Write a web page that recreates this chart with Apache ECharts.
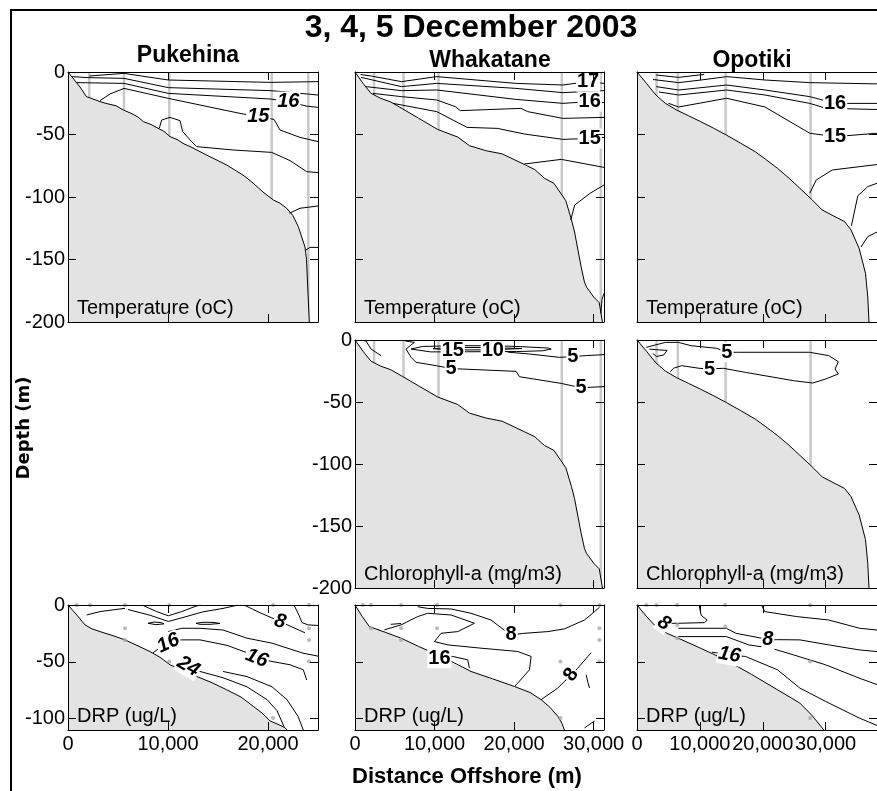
<!DOCTYPE html>
<html>
<head>
<meta charset="utf-8">
<script src="https://cdn.jsdelivr.net/npm/echarts@6/dist/echarts.min.js"></script>
<style>
html,body{margin:0;padding:0;background:#fff}
#chart{width:877px;height:791px}
</style>
</head>
<body>
<div id="chart"></div>
<script>
// ---------------- data ----------------
const figureTitle = '3, 4, 5 December 2003';
const sectionNames = ['Pukehina', 'Whakatane', 'Opotiki'];
const variableNames = ['Temperature (oC)', 'Chlorophyll-a (mg/m3)', 'DRP (ug/L)'];
const xAxisTitle = 'Distance Offshore (m)';
const yAxisTitle = 'Depth (m)';

// section lengths offshore (m)
const sectionLength = [25000, 31300, 38170];
// tick values
const depthTicksFull = [0, -50, -100, -150, -200];
const depthTicksDRP = [0, -50, -100];
const distanceTicks = [0, 10000, 20000, 30000];

// seabed profiles [distance m, depth m]
const pukBathy = [[0,0],[600,-6],[1200,-12],[1840,-19.7],[2300,-21],[3200,-23.7],[4000,-25.5],[4800,-27],[5530,-30.4],[6300,-33],[7000,-36],[7530,-39.7],[8300,-42],[9000,-45],[9600,-47.5],[10200,-51.7],[10900,-54],[11600,-57.5],[12300,-60],[13200,-63.7],[14000,-67],[14900,-70.5],[15870,-74.4],[16700,-78.5],[17600,-83],[18530,-89],[19500,-96],[20530,-102.4],[21200,-105],[21870,-109],[22500,-115],[23030,-123.7],[23700,-140],[23850,-150],[24130,-200]];
const pukBathyDRP = [[0,0],[900,-9],[1700,-17.5],[2400,-21],[3200,-23.4],[4500,-27],[5700,-30.7],[7000,-36],[8200,-41],[9200,-46],[10200,-52.6],[11500,-57.5],[12870,-62.9],[14300,-68],[15870,-74.6],[17300,-81],[18530,-89.2],[19400,-95],[20200,-102],[21000,-105],[21700,-108],[21900,-110]];
const whaBathy = [[0,0],[1000,-9],[2000,-17],[3200,-21],[4500,-24],[6000,-29.5],[8000,-37],[10400,-46],[12900,-52],[14400,-59],[16500,-63],[18500,-65.5],[21300,-74],[22600,-78],[23800,-85],[25000,-89],[26500,-103],[27200,-118],[27600,-128],[28400,-155],[28840,-168],[29100,-172],[30000,-180],[30700,-184.5],[31100,-200]];
const whaBathyDRP = [[0,0],[900,-10],[1800,-19],[3800,-24],[5790,-29.2],[8000,-36.5],[10400,-43.9],[12500,-51],[14590,-58.5],[17300,-65],[20040,-71.7],[22000,-77],[23400,-83.3],[24500,-90],[25500,-98],[26000,-104],[26330,-110]];
const opoBathy = [[0,0],[1500,-9],[3000,-18.4],[4500,-25],[6300,-30.4],[8200,-35],[10120,-39.7],[12200,-45],[14200,-50.4],[16500,-57],[18780,-63.7],[20500,-70],[22340,-77],[24200,-85],[25900,-93],[27800,-102],[29460,-110.4],[31200,-115],[33020,-119.7],[34040,-126.4],[35320,-141],[36340,-161],[36700,-180],[36900,-200]];
const opoBathyDRP = [[0,0],[1500,-10],[3000,-19],[4800,-25],[6560,-29.2],[10300,-38.5],[14050,-48.2],[18200,-61],[22340,-74.6],[25900,-86.3],[27800,-97],[29460,-108.2],[29700,-110]];

// CTD station positions (m offshore)
const pukStations = [2130, 5600, 10130, 20370, 24030];
const whaStations = [2400, 6100, 10500, 26000, 30900];
const opoStations = [3100, 6500, 14100, 27600];

// water sample positions for nutrients [distance, depth]
const pukSamples = [[870,0],[2200,0],[5700,0],[5700,-20.5],[5700,-30.7],[10130,0],[10130,-49.7],[20500,0],[20500,-99.4],[24100,0],[24100,-20.5],[24100,-30.7],[24100,-49.7]];
const whaSamples = [[970,0],[2010,0],[5790,0],[10310,0],[25830,0],[30730,0],[2010,-20.5],[5790,-20.5],[5790,-30.7],[10310,-20.5],[10310,-49.7],[25830,-49.7],[25830,-99.4],[30730,-20.5],[30730,-30.7],[30730,-49.7]];
const opoSamples = [[1480,0],[3100,0],[6410,0],[14050,0],[27530,0],[6410,-17.5],[6410,-29.2],[14050,-19],[14050,-49.7],[27530,-49.7],[27530,-99.4]];

// contour polylines [distance, depth]
const pukTempContours = [
  [[2133,-3.2],[5600,-1.1],[10033,-6.4],[20266,-8.3],[25000,-7.7]],
  [[367,-3.7],[2000,-4.5],[5600,-5.1],[10033,-12.5],[20266,-14.9],[25000,-18.4]],
  [[867,-8.5],[5600,-9.1],[10033,-17.1],[20266,-21.6],[22030,-23.7],[23800,-27.2],[25000,-28.3]],
  [[3200,-22.9],[4200,-17.6],[5600,-13.1],[10033,-21.1],[17200,-33.1],[19030,-35.7],[20600,-37.9],[21200,-46.4],[23200,-52.3],[25000,-55.7]],
  [[9133,-45],[9366,-38.4],[10200,-36.3],[11200,-38.9],[11466,-47.7],[12366,-55.7],[12866,-59.7],[16533,-62.4],[20366,-64.3],[22200,-70.9],[23866,-79.7],[25000,-80.5]],
  [[22133,-113],[23200,-109],[25000,-107.2]],
  [[23800,-142.4],[24200,-140.3],[25000,-140.3]]
];
const pukTempLabels = [[22030,-23.7,'16'],[19030,-35.7,'15']];

const whaTempContours = [
  [[700,-2],[2030,-3.2],[5837,-7.7],[10280,-3.7],[20219,-9.1],[26141,-10.4],[29300,-7.7],[31300,-9.1]],
  [[761,-4.3],[5837,-11.7],[10280,-9.1],[20219,-13.1],[26141,-16.5],[31300,-14.9]],
  [[1396,-11.7],[5837,-14.9],[10280,-14.4],[20219,-21.9],[26141,-25.1],[29500,-23.7],[31300,-24.5]],
  [[2242,-17.1],[5837,-19.7],[10280,-22.4],[12605,-27.7],[13240,-30.9],[20854,-29.1],[21700,-31.7],[26141,-37.1],[31300,-36.3]],
  [[4780,-25.1],[10280,-31.7],[14086,-44.3],[17893,-45.1],[21277,-49.6],[26141,-53.9],[29500,-53.1],[31300,-52.3]],
  [[21277,-73.6],[25930,-69.9],[31300,-76.3]],
  [[27114,-118.4],[27621,-106.4],[29525,-97.1],[31300,-90.4]],
  [[30900,-193],[31050,-182],[31300,-177]]
];
const whaTempLabels = [[29300,-7.7,'17'],[29500,-23.7,'16'],[29500,-53.1,'15']];

const opoTempContours = [
  [[3050,-2.4],[6620,-4.3],[10690,-1.9]],
  [[2545,-6],[6620,-8.5],[10180,-6.4],[14250,-3.7],[20360,-6.4],[27480,-8.5],[38170,-9.5]],
  [[3050,-11.7],[6620,-14.4],[14250,-10.4],[20360,-14.4],[27480,-19.7],[31510,-25.1],[38170,-25.1]],
  [[3500,-16],[6620,-18.4],[14250,-14.4],[20360,-18.4],[27480,-25.1],[30030,-29],[38170,-30]],
  [[5000,-25],[6620,-28],[14250,-21],[20360,-28],[27480,-49],[31510,-51.7],[38170,-49]],
  [[27480,-97],[28500,-86.4],[31050,-78.4],[38170,-74]],
  [[34100,-123],[35120,-99],[36700,-91.7],[38170,-89]],
  [[35630,-140],[36700,-131.7],[38170,-128]]
];
const opoTempLabels = [[31510,-25.1,'16'],[31510,-51.7,'15']];

const whaChlContours = [
  [[7045,-7.3],[8500,-5.2],[12700,-4.6],[17700,-4.6],[21000,-5.4],[24300,-6.5],[24660,-7.3],[23600,-8.7],[20300,-9.3],[14000,-9.5],[9500,-9.6],[7045,-7.3]],
  [[9800,-7],[12000,-6],[17000,-6.1],[21000,-6.9],[17000,-7.9],[12000,-8.1],[9800,-7]],
  [[6330,-0.8],[7460,-1.9],[6415,-7.3],[7045,-14],[7675,-18],[10190,-20.7],[12080,-23],[13460,-23.4],[20250,-25.3],[20670,-29.6],[25920,-35],[28430,-38.5],[31300,-37.6]],
  [[19200,-9.8],[21930,-11.3],[25710,-14],[27390,-13.4],[29060,-12.6],[31300,-11.8]],
  [[755,-0.2],[1384,-0.8],[2013,-7.3],[3270,-12.6]],
  [[11110,0],[11660,-1.5],[12700,-2.7]]
];
const whaChlLabels = [[12290,-8.6,'15'],[17320,-8.4,'10'],[12080,-23,'5'],[27390,-13.4,'5'],[28430,-38.5,'5']];

const opoChlContours = [
  [[1478,-5.9],[4530,-1.9],[6570,-1.9],[8600,-4.6],[12680,-6.7],[14300,-9.9],[15990,-9.9],[27440,-9.9],[30490,-12.6],[32020,-17.5],[31510,-23.4],[32020,-27.4],[29980,-31.5],[27950,-34.7],[24890,-32.8],[17260,-26.1],[13700,-22.8],[11560,-23.4],[9880,-22.8],[7080,-20.7],[5810,-22.8],[5300,-25.5]],
  [[1990,-7.4],[3510,-8],[4780,-8.4],[4280,-12],[3110,-13.3],[2500,-11]]
];
const opoChlLabels = [[14300,-9.9,'5'],[11560,-23.4,'5']];

const pukDrpContours = [
  [[1870,-8.8],[3200,-5.8],[5700,-2.9]],
  [[7400,0],[8870,-5.8],[10030,-9.5],[11370,-5.8],[12800,-1],[13300,0]],
  [[6000,-4],[8200,-9],[10030,-14.5],[11500,-11],[13500,-6],[15500,-3],[17000,0]],
  [[8000,-16.1],[8600,-15],[9300,-15.5],[9600,-16.6],[8800,-17.3],[8000,-16.1]],
  [[12800,-16.1],[13500,-15.2],[14500,-15.3],[15200,-16.2],[14200,-17],[13200,-17],[12800,-16.1]],
  [[17600,0],[19000,-6],[20300,-11],[21200,-14.6],[22200,-18.5],[23700,-24.5]],
  [[22600,0],[23100,-9],[23400,-15.5],[24000,-17.5],[25000,-18]],
  [[10030,-23.4],[11370,-20.5],[13200,-20.5],[15500,-22],[17900,-29.2],[20400,-33.6],[23500,-42.4],[25000,-45]],
  [[8500,-42],[9300,-37],[10030,-33.6],[11370,-30.7],[13200,-30.7],[15900,-35.5],[17900,-42],[18870,-46.8],[20400,-49.7],[22200,-52.6],[23530,-57],[23870,-66]],
  [[11200,-56.5],[12030,-54.1],[13200,-58.5],[15500,-64],[17900,-72],[19900,-83.3],[20900,-93],[21600,-107]],
  [[15500,-58.5],[17900,-63],[20400,-72],[21900,-83.3],[23000,-98],[23530,-110]]
];
const pukDrpLabels = [[21200,-14.6,'8'],[10030,-33.6,'16'],[18870,-46.8,'16'],[12030,-54.1,'24']];
const pukDrpLabelAngles = [-15, 25, -22, -30];

const whaDrpContours = [
  [[3690,-21.9],[5790,-17.5],[7880,-10.2],[9140,-7.3],[12080,-8.8],[15010,-16.1],[12920,-23.4],[10820,-24.9],[9980,-32.2],[11660,-35.1],[15850,-38],[20460,-40.9],[22140,-45.3],[21930,-57],[20460,-68.7],[20050,-71.6]],
  [[4500,-17],[5790,-16.3]],
  [[7880,-1.5],[9140,-3],[12080,-3.5],[14590,-7.3],[17100,-13.2],[18370,-20],[19620,-26.3],[21090,-25],[24240,-23.4],[26330,-21],[28850,-13.2],[30110,-5.8],[30740,-2]],
  [[9600,-41],[10610,-46.8],[12290,-45.3],[14170,-48.2],[14380,-55.6]],
  [[23400,-83.3],[25500,-73],[27170,-61.4],[28000,-55.6],[29270,-45.3],[29690,-42]],
  [[29060,-61.4],[29270,-68],[29480,-73.1]],
  [[28850,-108.2],[29700,-104],[30110,-102]]
];
const whaDrpLabels = [[19620,-26.3,'8'],[10610,-46.8,'16'],[27170,-61.4,'8']];
const whaDrpLabelAngles = [0, 0, 55];

const opoDrpContours = [
  [[9880,0],[10200,-9],[11150,-13.2],[10740,-15.5],[6570,-16.1],[4276,-16.1],[3200,-17]],
  [[19800,0],[20310,-5.8],[25400,-10.2],[30490,-13.2],[35420,-20.5],[38170,-22]],
  [[6570,-20.5],[14200,-20.5],[15730,-24.9],[19800,-29.2],[20820,-30.7],[22340,-30.5],[25900,-30.7],[30490,-35.1],[35320,-39.5],[38170,-41]],
  [[6570,-27.8],[14200,-27.8],[17770,-35.1],[21330,-38],[24890,-43.9],[29980,-52.6],[35320,-64.3],[38170,-70]],
  [[11910,-41.5],[14710,-43.9],[17260,-45.3],[22340,-57],[25900,-73.1],[29980,-84.8],[35320,-99.4],[38170,-106]]
];
const opoDrpLabels = [[4276,-16.1,'8'],[20820,-30.7,'8'],[14710,-43.9,'16']];
const opoDrpLabelAngles = [-35, 0, -10];

// ---------------- layout ----------------
const FONT = '"Liberation Sans", Arial, Helvetica, sans-serif';
const colLeft = [68, 355, 637];
const colWidth = [250, 249, 250];
const rowTop = [72, 340, 605];
const rowHeight = [250, 248, 125];

const panels = [
  {col:0,row:0,bathy:pukBathy,stations:pukStations,contours:pukTempContours,labels:pukTempLabels,italic:true,yLab:true},
  {col:1,row:0,bathy:whaBathy,stations:whaStations,contours:whaTempContours,labels:whaTempLabels,italic:false,yLab:false},
  {col:2,row:0,bathy:opoBathy,stations:opoStations,contours:opoTempContours,labels:opoTempLabels,italic:false,yLab:false},
  {col:1,row:1,bathy:whaBathy,stations:whaStations,contours:whaChlContours,labels:whaChlLabels,italic:false,yLab:true},
  {col:2,row:1,bathy:opoBathy,stations:opoStations,contours:opoChlContours,labels:opoChlLabels,italic:false,yLab:false},
  {col:0,row:2,bathy:pukBathyDRP,samples:pukSamples,contours:pukDrpContours,labels:pukDrpLabels,angles:pukDrpLabelAngles,italic:true,yLab:true},
  {col:1,row:2,bathy:whaBathyDRP,samples:whaSamples,contours:whaDrpContours,labels:whaDrpLabels,angles:whaDrpLabelAngles,italic:false,yLab:false},
  {col:2,row:2,bathy:opoBathyDRP,samples:opoSamples,contours:opoDrpContours,labels:opoDrpLabels,angles:opoDrpLabelAngles,italic:true,yLab:false}
];

const fmtDist = v => v.toLocaleString('en-US');
const option = {animation:false, backgroundColor:'#fff', grid:[], xAxis:[], yAxis:[], series:[], graphic:[]};

panels.forEach((p, i) => {
  const left = colLeft[p.col], top = rowTop[p.row], w = colWidth[p.col], h = rowHeight[p.row];
  const xMax = sectionLength[p.col];
  const yTicks = p.row === 2 ? depthTicksDRP : depthTicksFull;
  const yMin = p.row === 2 ? -110 : -200;
  const xTicks = distanceTicks.filter(v => v <= xMax);
  const innerX = xTicks.filter(v => v > 0);
  const innerY = yTicks.filter(v => v < 0 && v > yMin);
  option.grid.push({left, top, width:w, height:h, show:false});

  const line = {show:true, onZero:false, lineStyle:{color:'#000', width:1}};
  const tick = vals => ({show:true, inside:true, length:8, customValues:vals, lineStyle:{color:'#000', width:1}});
  const lab = {color:'#000', fontSize:20, fontFamily:FONT};

  option.xAxis.push({gridIndex:i, type:'value', min:0, max:xMax, position:'bottom', z:10, axisLine:line, axisTick:tick(innerX),
    axisLabel:Object.assign({show:p.row === 2, customValues:xTicks, formatter:fmtDist, margin:4}, lab), splitLine:{show:false}});
  option.xAxis.push({gridIndex:i, type:'value', min:0, max:xMax, position:'top', z:10, axisLine:line, axisTick:tick(innerX),
    axisLabel:{show:false}, splitLine:{show:false}});
  option.yAxis.push({gridIndex:i, type:'value', min:yMin, max:0, position:'left', z:10, axisLine:line, axisTick:tick(innerY),
    axisLabel:Object.assign({show:p.yLab, customValues:yTicks, margin:3}, lab), splitLine:{show:false}});
  option.yAxis.push({gridIndex:i, type:'value', min:yMin, max:0, position:'right', z:10, axisLine:line, axisTick:tick(innerY),
    axisLabel:{show:false}, splitLine:{show:false}});

  const ax = {xAxisIndex:2*i, yAxisIndex:2*i};
  // station casts
  (p.stations || []).forEach(s => {
    option.series.push(Object.assign({type:'line', data:[[s,0],[s,yMin]], symbol:'none', silent:true, z:1,
      lineStyle:{color:'#c9c9c9', width:2.5}}, ax));
  });
  // seabed
  option.series.push(Object.assign({type:'line', data:p.bathy, symbol:'none', silent:true, z:2,
    lineStyle:{color:'#000', width:1}, areaStyle:{color:'#e3e3e3', opacity:1, origin:'start'}}, ax));
  // contours
  p.contours.forEach(c => {
    option.series.push(Object.assign({type:'line', data:c, symbol:'none', silent:true, z:3,
      lineStyle:{color:'#000', width:1}}, ax));
  });
  // bottle samples
  if (p.samples) {
    option.series.push(Object.assign({type:'scatter', data:p.samples, symbol:'circle', symbolSize:4, silent:true, z:4,
      itemStyle:{color:'#a8a8a8'}}, ax));
  }
  // contour labels
  option.series.push(Object.assign({type:'scatter', symbolSize:0, silent:true, z:5, itemStyle:{opacity:1},
    data:p.labels.map((l, k) => ({value:[l[0], l[1]], name:l[2], label:{rotate:p.angles ? p.angles[k] : 0}})),
    label:{show:true, position:'inside', formatter:'{b}', color:'#000', opacity:1, textBorderWidth:0, fontSize:20, fontWeight:'bold',
      fontStyle:p.italic ? 'italic' : 'normal', fontFamily:FONT, backgroundColor:'#fff', padding:[0,1]}}, ax));

  // variable caption
  option.graphic.push({type:'text', x:left + 9, y:top + h - 4, z:10, silent:true,
    style:{text:variableNames[p.row], fill:'#000', font:'20px ' + FONT, textAlign:'left', textVerticalAlign:'bottom'}});
});

// frame, titles
option.graphic.push({type:'rect', shape:{x:11, y:10, width:900, height:800}, silent:true, z:0,
  style:{fill:'none', stroke:'#000', lineWidth:2}});
option.graphic.push({type:'text', x:471, y:28, silent:true,
  style:{text:figureTitle, fill:'#000', font:'bold 32px ' + FONT, textAlign:'center', textVerticalAlign:'middle'}});
const sectionCentre = [[188,56],[490,61],[752,61]];
sectionNames.forEach((n, k) => {
  option.graphic.push({type:'text', x:sectionCentre[k][0], y:sectionCentre[k][1], silent:true,
    style:{text:n, fill:'#000', font:'bold 23px ' + FONT, textAlign:'center', textVerticalAlign:'middle'}});
});
option.graphic.push({type:'text', x:467, y:777, silent:true,
  style:{text:xAxisTitle, fill:'#000', font:'bold 22px ' + FONT, textAlign:'center', textVerticalAlign:'middle'}});
option.graphic.push({type:'text', x:24, y:428, rotation:Math.PI/2, silent:true,
  style:{text:yAxisTitle, fill:'#000', font:'bold 18px "DejaVu Sans", sans-serif', textAlign:'center', textVerticalAlign:'middle'}});

const chart = echarts.init(document.getElementById('chart'), null, {renderer:'canvas'});
chart.setOption(option);
</script>
</body>
</html>
